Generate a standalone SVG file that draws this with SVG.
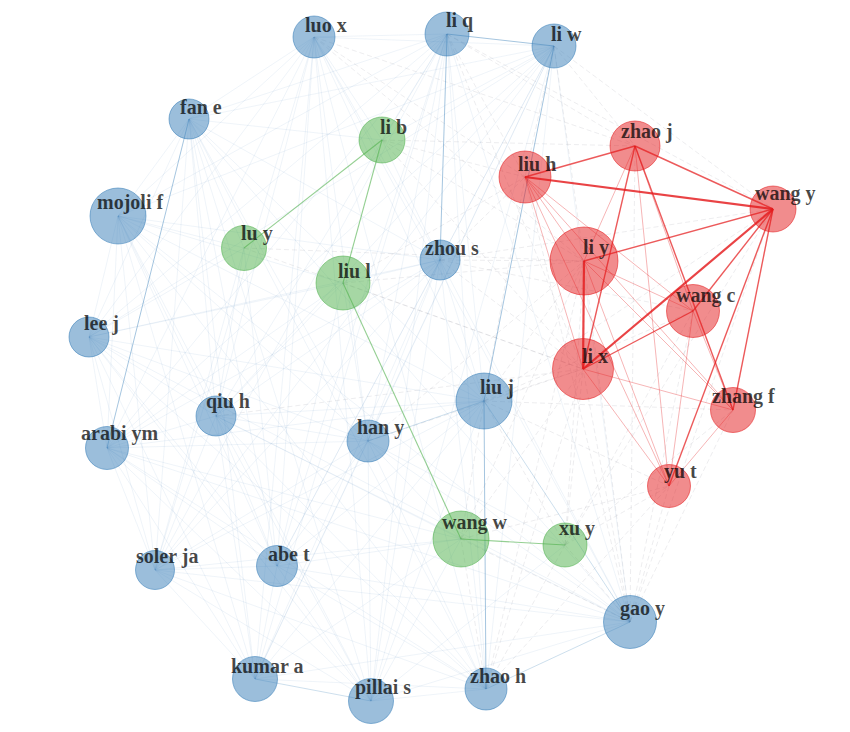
<svg xmlns="http://www.w3.org/2000/svg" width="850" height="732" viewBox="0 0 850 732">
<style>
.bg{fill:#ffffff}
#edges path{fill:none}
.bf{stroke:#377eb8;stroke-opacity:0.12;stroke-width:0.7}
.xf{stroke:#8a8f96;stroke-opacity:0.2;stroke-width:0.8;stroke-dasharray:5 3}
.b{stroke:#377eb8;stroke-opacity:0.45;stroke-width:1}
.bl{stroke:#377eb8;stroke-opacity:0.25;stroke-width:1}
.g{stroke:#4daf4a;stroke-opacity:0.6;stroke-width:1.1}
.r1{stroke:#e41a1c;stroke-opacity:0.32;stroke-width:1}
.r2{stroke:#e41a1c;stroke-opacity:0.72;stroke-width:1.4}
.r3{stroke:#e41a1c;stroke-opacity:0.82;stroke-width:2.2}
.nb{fill:#377eb8;fill-opacity:0.5;stroke:#377eb8;stroke-opacity:0.55;stroke-width:1}
.ng{fill:#4daf4a;fill-opacity:0.5;stroke:#4daf4a;stroke-opacity:0.55;stroke-width:1}
.nr{fill:#e41a1c;fill-opacity:0.5;stroke:#e41a1c;stroke-opacity:0.55;stroke-width:1}
text{font-family:"Liberation Serif","Times New Roman",serif;font-weight:bold;font-size:20px;fill:#000;fill-opacity:0.72}
</style>
<rect class="bg" x="0" y="0" width="850" height="732"/>
<g id="edges">
<g class="bf">
<path d="M314 37L447 34"/><path d="M314 37L554 46"/><path d="M314 37L189 119"/><path d="M314 37L118 216"/><path d="M314 37L440 260"/><path d="M314 37L89 337"/><path d="M314 37L484 401"/><path d="M314 37L216 416"/><path d="M314 37L107 448"/><path d="M314 37L368 441"/><path d="M314 37L155 570"/><path d="M314 37L277 566"/><path d="M314 37L630 622"/><path d="M314 37L255 679"/><path d="M314 37L371 701"/><path d="M314 37L486 689"/>
<path d="M447 34L189 119"/><path d="M447 34L118 216"/><path d="M447 34L89 337"/><path d="M447 34L484 401"/><path d="M447 34L216 416"/><path d="M447 34L107 448"/><path d="M447 34L368 441"/><path d="M447 34L155 570"/><path d="M447 34L277 566"/><path d="M447 34L630 622"/><path d="M447 34L255 679"/><path d="M447 34L371 701"/><path d="M447 34L486 689"/>
<path d="M554 46L189 119"/><path d="M554 46L118 216"/><path d="M554 46L440 260"/><path d="M554 46L89 337"/><path d="M554 46L216 416"/><path d="M554 46L107 448"/><path d="M554 46L368 441"/><path d="M554 46L155 570"/><path d="M554 46L277 566"/><path d="M554 46L630 622"/><path d="M554 46L255 679"/><path d="M554 46L371 701"/><path d="M554 46L486 689"/>
<path d="M189 119L118 216"/><path d="M189 119L440 260"/><path d="M189 119L89 337"/><path d="M189 119L484 401"/><path d="M189 119L216 416"/><path d="M189 119L368 441"/><path d="M189 119L155 570"/><path d="M189 119L277 566"/><path d="M189 119L630 622"/><path d="M189 119L255 679"/><path d="M189 119L371 701"/><path d="M189 119L486 689"/>
<path d="M118 216L440 260"/><path d="M118 216L89 337"/><path d="M118 216L484 401"/><path d="M118 216L216 416"/><path d="M118 216L107 448"/><path d="M118 216L368 441"/><path d="M118 216L155 570"/><path d="M118 216L277 566"/><path d="M118 216L630 622"/><path d="M118 216L255 679"/><path d="M118 216L371 701"/><path d="M118 216L486 689"/>
<path d="M440 260L89 337"/><path d="M440 260L484 401"/><path d="M440 260L216 416"/><path d="M440 260L107 448"/><path d="M440 260L368 441"/><path d="M440 260L155 570"/><path d="M440 260L277 566"/><path d="M440 260L630 622"/><path d="M440 260L255 679"/><path d="M440 260L371 701"/><path d="M440 260L486 689"/>
<path d="M89 337L484 401"/><path d="M89 337L216 416"/><path d="M89 337L107 448"/><path d="M89 337L368 441"/><path d="M89 337L155 570"/><path d="M89 337L277 566"/><path d="M89 337L630 622"/><path d="M89 337L255 679"/><path d="M89 337L371 701"/><path d="M89 337L486 689"/>
<path d="M484 401L216 416"/><path d="M484 401L107 448"/><path d="M484 401L155 570"/><path d="M484 401L277 566"/><path d="M484 401L255 679"/><path d="M484 401L371 701"/>
<path d="M216 416L107 448"/><path d="M216 416L368 441"/><path d="M216 416L155 570"/><path d="M216 416L277 566"/><path d="M216 416L630 622"/><path d="M216 416L255 679"/><path d="M216 416L371 701"/><path d="M216 416L486 689"/>
<path d="M107 448L368 441"/><path d="M107 448L155 570"/><path d="M107 448L277 566"/><path d="M107 448L630 622"/><path d="M107 448L255 679"/><path d="M107 448L371 701"/><path d="M107 448L486 689"/>
<path d="M368 441L155 570"/><path d="M368 441L277 566"/><path d="M368 441L630 622"/><path d="M368 441L255 679"/><path d="M368 441L371 701"/><path d="M368 441L486 689"/>
<path d="M155 570L277 566"/><path d="M155 570L630 622"/><path d="M155 570L255 679"/><path d="M155 570L371 701"/><path d="M155 570L486 689"/>
<path d="M277 566L630 622"/><path d="M277 566L255 679"/><path d="M277 566L371 701"/><path d="M277 566L486 689"/>
<path d="M630 622L255 679"/><path d="M630 622L371 701"/><path d="M255 679L486 689"/><path d="M371 701L486 689"/>
<path d="M189 119L382 140"/><path d="M314 37L382 140"/><path d="M118 216L244 248"/><path d="M89 337L244 248"/><path d="M107 448L343 283"/><path d="M155 570L244 248"/><path d="M216 416L343 283"/><path d="M277 566L343 283"/><path d="M255 679L461 539"/><path d="M277 566L461 539"/><path d="M371 701L461 539"/><path d="M371 701L565 545"/><path d="M216 416L461 539"/><path d="M107 448L461 539"/><path d="M89 337L343 283"/><path d="M118 216L343 283"/><path d="M155 570L461 539"/><path d="M368 441L461 539"/><path d="M368 441L565 545"/><path d="M368 441L343 283"/><path d="M216 416L244 248"/><path d="M277 566L244 248"/><path d="M189 119L244 248"/><path d="M447 34L382 140"/><path d="M554 46L382 140"/><path d="M440 260L382 140"/><path d="M440 260L343 283"/>
</g>
<g class="xf">
<path d="M314 37L635 146"/><path d="M314 37L525 177"/><path d="M314 37L584 261"/><path d="M447 34L525 177"/><path d="M447 34L635 146"/><path d="M447 34L583 369"/><path d="M447 34L773 209"/><path d="M554 46L635 146"/><path d="M554 46L773 209"/><path d="M554 46L584 261"/><path d="M554 46L525 177"/><path d="M440 260L584 261"/><path d="M440 260L583 369"/><path d="M440 260L525 177"/><path d="M440 260L773 209"/><path d="M484 401L583 369"/><path d="M484 401L584 261"/><path d="M484 401L773 209"/><path d="M484 401L525 177"/><path d="M484 401L693 311"/><path d="M484 401L461 539"/><path d="M484 401L565 545"/><path d="M368 441L583 369"/><path d="M630 622L583 369"/><path d="M630 622L584 261"/><path d="M630 622L693 311"/><path d="M630 622L669 486"/><path d="M630 622L565 545"/><path d="M630 622L461 539"/><path d="M630 622L635 146"/><path d="M630 622L525 177"/><path d="M630 622L773 209"/><path d="M630 622L733 410"/><path d="M486 689L461 539"/><path d="M486 689L565 545"/><path d="M486 689L583 369"/><path d="M486 689L669 486"/><path d="M486 689L584 261"/><path d="M244 248L583 369"/><path d="M244 248L584 261"/><path d="M343 283L583 369"/><path d="M343 283L584 261"/><path d="M343 283L525 177"/><path d="M382 140L525 177"/><path d="M382 140L584 261"/><path d="M382 140L635 146"/><path d="M382 140L583 369"/><path d="M461 539L583 369"/><path d="M461 539L584 261"/><path d="M565 545L583 369"/><path d="M565 545L669 486"/><path d="M565 545L693 311"/><path d="M565 545L584 261"/><path d="M461 539L669 486"/><path d="M565 545L773 209"/><path d="M565 545L733 410"/><path d="M368 441L584 261"/><path d="M216 416L583 369"/><path d="M440 260L693 311"/><path d="M484 401L669 486"/><path d="M484 401L733 410"/>
</g>
<g class="b">
<path d="M189 119L107 448"/><path d="M447 34L440 260"/><path d="M554 46L484 401"/><path d="M484 401L486 689"/><path d="M447 34L554 46"/>
</g>
<g class="bl">
<path d="M255 679L371 701"/><path d="M486 689L630 622"/><path d="M368 441L484 401"/><path d="M484 401L630 622"/>
</g>
<g class="g">
<path d="M382 140L244 248"/><path d="M382 140L343 283"/><path d="M343 283L461 539"/><path d="M461 539L565 545"/>
</g>
<g class="r1">
<path d="M525 177L584 261"/><path d="M525 177L583 369"/><path d="M525 177L693 311"/><path d="M525 177L733 410"/><path d="M525 177L669 486"/><path d="M583 369L733 410"/><path d="M583 369L669 486"/><path d="M584 261L693 311"/><path d="M584 261L733 410"/><path d="M584 261L669 486"/><path d="M693 311L669 486"/><path d="M693 311L733 410"/><path d="M635 146L584 261"/><path d="M635 146L693 311"/><path d="M635 146L669 486"/><path d="M733 410L669 486"/>
</g>
<g class="r2">
<path d="M525 177L635 146"/><path d="M635 146L773 209"/><path d="M773 209L584 261"/><path d="M773 209L693 311"/><path d="M773 209L733 410"/><path d="M773 209L669 486"/><path d="M583 369L693 311"/><path d="M635 146L583 369"/><path d="M635 146L733 410"/>
</g>
<g class="r3">
<path d="M773 209L583 369"/><path d="M584 261L583 369"/><path d="M525 177L773 209"/>
</g>
</g>
<g id="n-luox"><circle class="nb" cx="314" cy="37" r="21"/><text x="305" y="32">luo x</text></g>
<g id="n-liq"><circle class="nb" cx="447" cy="34" r="22"/><text x="446" y="27">li q</text></g>
<g id="n-liw"><circle class="nb" cx="554" cy="46" r="22"/><text x="551" y="41">li w</text></g>
<g id="n-fane"><circle class="nb" cx="189" cy="119" r="20"/><text x="180" y="114">fan e</text></g>
<g id="n-lib"><circle class="ng" cx="382" cy="140" r="23"/><text x="380" y="134">li b</text></g>
<g id="n-zhaoj"><circle class="nr" cx="635" cy="146" r="25"/><text x="621" y="138">zhao j</text></g>
<g id="n-liuh"><circle class="nr" cx="525" cy="177" r="26"/><text x="518" y="171">liu h</text></g>
<g id="n-mojolif"><circle class="nb" cx="118" cy="216" r="28"/><text x="97" y="209">mojoli f</text></g>
<g id="n-wangy"><circle class="nr" cx="773" cy="209" r="23"/><text x="755" y="200">wang y</text></g>
<g id="n-luy"><circle class="ng" cx="244" cy="248" r="22.5"/><text x="241" y="240">lu y</text></g>
<g id="n-zhous"><circle class="nb" cx="440" cy="260" r="20"/><text x="425" y="255">zhou s</text></g>
<g id="n-liy"><circle class="nr" cx="584" cy="261" r="34"/><text x="583" y="254">li y</text></g>
<g id="n-liul"><circle class="ng" cx="343" cy="283" r="27"/><text x="338" y="278">liu l</text></g>
<g id="n-leej"><circle class="nb" cx="89" cy="337" r="20"/><text x="84" y="330">lee j</text></g>
<g id="n-wangc"><circle class="nr" cx="693" cy="311" r="26.5"/><text x="676" y="302">wang c</text></g>
<g id="n-lix"><circle class="nr" cx="583" cy="369" r="30.5"/><text x="582" y="363">li x</text></g>
<g id="n-liuj"><circle class="nb" cx="484" cy="401" r="28"/><text x="480" y="394">liu j</text></g>
<g id="n-zhangf"><circle class="nr" cx="733" cy="410" r="22.5"/><text x="712" y="403">zhang f</text></g>
<g id="n-qiuh"><circle class="nb" cx="216" cy="416" r="20"/><text x="206" y="408">qiu h</text></g>
<g id="n-arabiym"><circle class="nb" cx="107" cy="448" r="21.5"/><text x="81" y="440">arabi ym</text></g>
<g id="n-hany"><circle class="nb" cx="368" cy="441" r="21"/><text x="357" y="434">han y</text></g>
<g id="n-yut"><circle class="nr" cx="669" cy="486" r="21.5"/><text x="664" y="478">yu t</text></g>
<g id="n-wangw"><circle class="ng" cx="461" cy="539" r="28"/><text x="442" y="529">wang w</text></g>
<g id="n-xuy"><circle class="ng" cx="565" cy="545" r="22"/><text x="559" y="535">xu y</text></g>
<g id="n-solerja"><circle class="nb" cx="155" cy="570" r="19.5"/><text x="136" y="563">soler ja</text></g>
<g id="n-abet"><circle class="nb" cx="277" cy="566" r="20.5"/><text x="268" y="561">abe t</text></g>
<g id="n-gaoy"><circle class="nb" cx="630" cy="622" r="26.5"/><text x="620" y="615">gao y</text></g>
<g id="n-kumara"><circle class="nb" cx="255" cy="679" r="22.5"/><text x="231" y="673">kumar a</text></g>
<g id="n-pillais"><circle class="nb" cx="371" cy="701" r="22.5"/><text x="355" y="694">pillai s</text></g>
<g id="n-zhaoh"><circle class="nb" cx="486" cy="689" r="21"/><text x="470" y="683">zhao h</text></g>
</svg>
